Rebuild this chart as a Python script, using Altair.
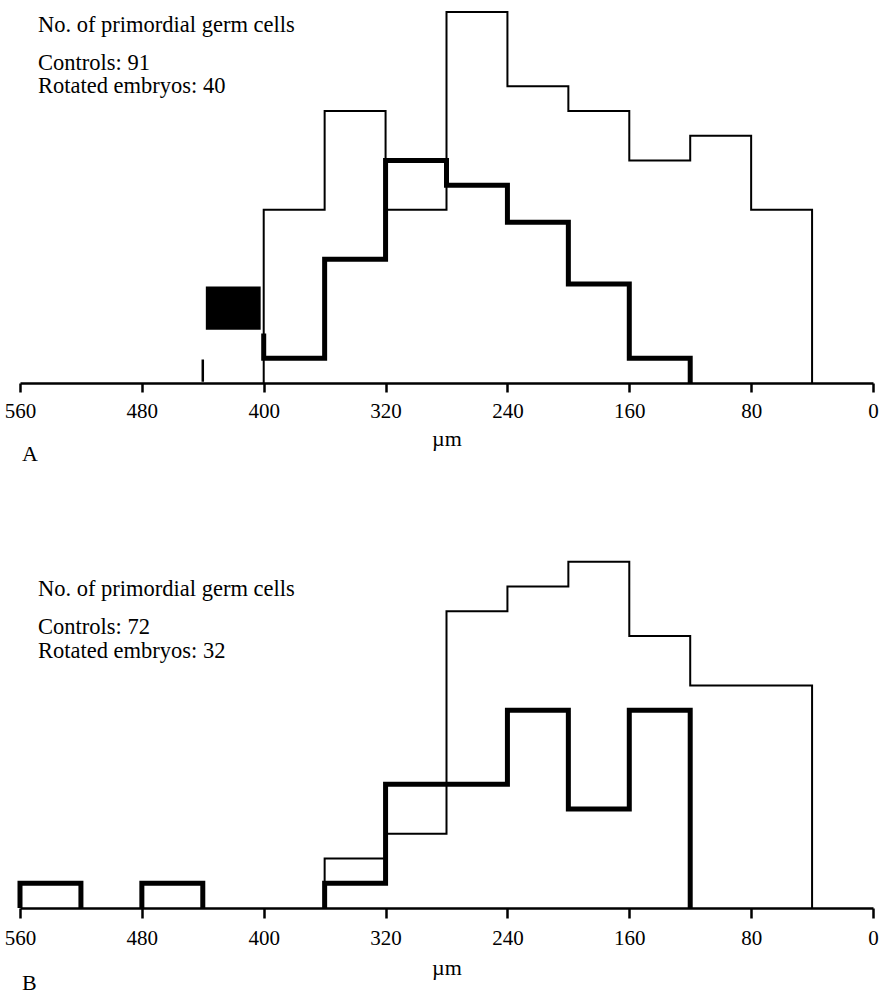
import altair as alt
import pandas as pd

BIN = 40
TICKS = [560, 480, 400, 320, 240, 160, 80, 0]

# ---- Panel A ----
a_ctrl_start = 400
a_ctrl_counts = [7, 11, 7, 15, 12, 11, 9, 10, 7]
a_rot_start = 400
a_rot_counts = [1, 5, 9, 8, 6.5, 4, 1]
a_rot_lead = 2.0            # thick line rises to here at its left edge
a_blot_x = [438, 402]       # filled block in panel A
a_blot_y = [2.15, 3.9]
a_stub_x = [440]
a_stub_y = [0.05, 0.95]
a_texts = ["No. of primordial germ cells", "Controls: 91", "Rotated embryos: 40"]

# ---- Panel B ----
b_ctrl_start = 360
b_ctrl_counts = [2, 3, 12, 13, 14, 11, 9, 9]
b_rot_start = 560
b_rot_counts = [1, 0, 1, 0, 0, 1, 5, 5, 8, 4, 8]
b_texts = ["No. of primordial germ cells", "Controls: 72", "Rotated embryos: 32"]

FONT = "Liberation Serif"
W, H = 853, 371


def step_path(start, counts, lead=0.0):
    """Vertices of a histogram outline, split into runs of non-zero bins."""
    rows = []
    seg = 0
    order = 0
    inrun = False
    for i, c in enumerate(counts):
        left = start - i * BIN
        right = left - BIN
        if c > 0:
            if not inrun:
                seg += 1
                inrun = True
                base = lead if (i == 0 and lead) else 0
                rows.append((seg, order, left, base)); order += 1
            rows.append((seg, order, left, c)); order += 1
            rows.append((seg, order, right, c)); order += 1
        else:
            if inrun:
                rows.append((seg, order, left, 0)); order += 1
                inrun = False
    if inrun:
        rows.append((seg, order, start - len(counts) * BIN, 0))
    return pd.DataFrame(rows, columns=["seg", "o", "um", "n"])


def panel(ctrl_start, ctrl_counts, rot_start, rot_counts, texts, text_y,
          tick_size, label_pad, title_y, letter, letter_y, lead=0.0,
          blot=None, stub=None):
    xs = alt.Scale(domain=[0, 560], reverse=True, nice=False, zero=False)
    ys = alt.Scale(domain=[0, 15], nice=False)
    axis = alt.Axis(values=TICKS, format="d", grid=False, domain=True,
                    domainColor="black", domainWidth=2.5, ticks=True,
                    tickColor="black", tickWidth=2.5, tickSize=tick_size,
                    labelFont=FONT, labelFontSize=21, labelColor="black",
                    labelPadding=label_pad, labelFlush=False,
                    title="µm", titleFont=FONT, titleFontSize=22,
                    titleFontWeight="normal", titleColor="black",
                    titleY=title_y, titleBaseline="middle")
    x = alt.X("um:Q", scale=xs, axis=axis)
    y = alt.Y("n:Q", scale=ys, axis=None)

    ctrl = alt.Chart(step_path(ctrl_start, ctrl_counts)).mark_line(
        color="black", strokeWidth=2, strokeJoin="miter"
    ).encode(x=x, y=y, detail="seg:N", order="o:Q")
    rot = alt.Chart(step_path(rot_start, rot_counts, lead)).mark_line(
        color="black", strokeWidth=5, strokeJoin="miter"
    ).encode(x=alt.X("um:Q", scale=xs), y=alt.Y("n:Q", scale=ys),
             detail="seg:N", order="o:Q")
    layers = [ctrl, rot]

    if blot is not None:
        bdf = pd.DataFrame({"x1": [blot[0][0]], "x2": [blot[0][1]],
                            "y1": [blot[1][0]], "y2": [blot[1][1]]})
        layers.append(alt.Chart(bdf).mark_rect(color="black").encode(
            x=alt.X("x1:Q", scale=xs), x2="x2:Q",
            y=alt.Y("y1:Q", scale=ys), y2="y2:Q"))
    if stub is not None:
        sdf = pd.DataFrame({"x": stub[0], "y1": [stub[1][0]], "y2": [stub[1][1]]})
        layers.append(alt.Chart(sdf).mark_rule(color="black", strokeWidth=2.5).encode(
            x=alt.X("x:Q", scale=xs), y=alt.Y("y1:Q", scale=ys), y2="y2:Q"))

    for t, ty in zip(texts, text_y):
        layers.append(alt.Chart(pd.DataFrame({"t": [t]})).mark_text(
            font=FONT, fontSize=22.5, color="black", align="left",
            baseline="alphabetic"
        ).encode(text="t:N", x=alt.value(18), y=alt.value(ty)))

    layers.append(alt.Chart(pd.DataFrame({"t": [letter]})).mark_text(
        font=FONT, fontSize=22, color="black", align="left", baseline="middle"
    ).encode(text="t:N", x=alt.value(2), y=alt.value(letter_y)))

    return alt.layer(*layers).properties(width=W, height=H)


top = panel(a_ctrl_start, a_ctrl_counts, a_rot_start, a_rot_counts, a_texts,
            [19.5, 57.5, 81], tick_size=9, label_pad=8, title_y=55,
            letter="A", letter_y=H + 71, lead=a_rot_lead,
            blot=(a_blot_x, a_blot_y), stub=(a_stub_x, a_stub_y))
bottom = panel(b_ctrl_start, b_ctrl_counts, b_rot_start, b_rot_counts, b_texts,
               [58.5, 97, 120.5], tick_size=10, label_pad=9, title_y=59,
               letter="B", letter_y=H + 75)

chart = alt.VConcatChart(vconcat=[top, bottom], spacing=154, bounds="flush").properties(
    padding={"left": 4, "top": 8, "right": 2, "bottom": 2}
).configure(background="white", view=alt.ViewConfig(stroke="transparent", strokeWidth=0))

chart.save("out.html", embed_options={"renderer": "svg", "actions": False})
